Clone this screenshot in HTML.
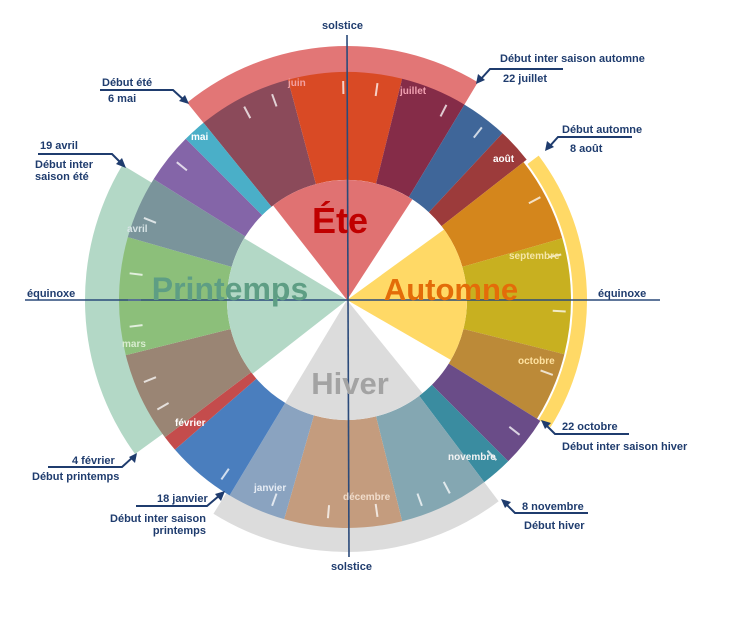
<!DOCTYPE html>
<html><head><meta charset="utf-8">
<style>
html,body{margin:0;padding:0;background:#fff;width:729px;height:634px;overflow:hidden}
svg{display:block}
text{font-family:"Liberation Sans",Arial,sans-serif;font-weight:bold}
.c{fill:#1F3C6E;font-size:11px}
.m{font-size:10px}
</style></head><body>
<svg id="s" width="729" height="634" viewBox="0 0 729 634" xmlns="http://www.w3.org/2000/svg">
<g id="shapes"></g>
<g id="ticks"></g>
<!-- axes -->
<line x1="347" y1="35" x2="349" y2="557" stroke="#2B4A7A" stroke-width="1.6"/>
<line x1="25" y1="300" x2="660" y2="300" stroke="#2B4A7A" stroke-width="1.6"/>
<!-- season labels -->
<text x="340" y="233" font-size="36" fill="#C00000" text-anchor="middle">Éte</text>
<text x="451" y="300" font-size="31" fill="#E36C09" text-anchor="middle">Automne</text>
<text x="230" y="300" font-size="32" fill="#5E9E84" text-anchor="middle">Printemps</text>
<text x="350" y="394" font-size="31" fill="#A3A3A3" text-anchor="middle">Hiver</text>
<!-- month labels -->
<text class="m" x="288" y="86" fill="#F2A0A0">juin</text>
<text class="m" x="400" y="94" fill="#F0A0B0">juillet</text>
<text class="m" x="493" y="162" fill="#fff">août</text>
<text class="m" x="509" y="259" fill="#F5E6A8">septembre</text>
<text class="m" x="518" y="364" fill="#FFE2A0">octobre</text>
<text class="m" x="448" y="460" fill="#F4F4F4">novembre</text>
<text class="m" x="343" y="500" fill="#F0DCCB">décembre</text>
<text class="m" x="254" y="491" fill="#E6ECF4">janvier</text>
<text class="m" x="175" y="426" fill="#fff">février</text>
<text class="m" x="122" y="347" fill="#D8ECD0">mars</text>
<text class="m" x="127" y="232" fill="#D8E4E6">avril</text>
<text class="m" x="191" y="140" fill="#fff">mai</text>
<!-- axis labels -->
<text class="c" x="322" y="29" font-size="12">solstice</text>
<text class="c" x="331" y="570" font-size="12">solstice</text>
<text class="c" x="27" y="297" font-size="12">équinoxe</text>
<text class="c" x="598" y="297" font-size="12">équinoxe</text>
<!-- callouts -->
<g fill="none" stroke="#1F3C6E" stroke-width="2">
<polyline points="100,90 173,90 185,101"/>
<polyline points="38,154 112,154 122,164"/>
<polyline points="563,69 490,69 480,80"/>
<polyline points="632,137 558,137 549,147"/>
<polyline points="629,434 555,434 545,424"/>
<polyline points="588,513 515,513 505,503"/>
<polyline points="48,467 122,467 133,457"/>
<polyline points="136,506 207,506 220,495"/>
</g>
<g fill="#1F3C6E">
<polygon points="189,104 179,101 185,95"/>
<polygon points="126,168 116,164 122,158"/>
<polygon points="476,84 478,74 485,80"/>
<polygon points="545,151 547,141 554,147"/>
<polygon points="541,420 551,423 545,429"/>
<polygon points="501,499 511,502 505,508"/>
<polygon points="137,453 135,463 129,457"/>
<polygon points="225,491 221,501 215,494"/>
</g>
<text class="c" x="102" y="86">Début été</text>
<text class="c" x="108" y="102">6 mai</text>
<text class="c" x="40" y="149">19 avril</text>
<text class="c" x="35" y="168">Début inter</text>
<text class="c" x="35" y="180">saison été</text>
<text class="c" x="500" y="62">Début inter saison automne</text>
<text class="c" x="503" y="82">22 juillet</text>
<text class="c" x="562" y="133">Début automne</text>
<text class="c" x="570" y="152">8 août</text>
<text class="c" x="562" y="430">22 octobre</text>
<text class="c" x="562" y="450">Début inter saison hiver</text>
<text class="c" x="522" y="510">8 novembre</text>
<text class="c" x="524" y="529">Début hiver</text>
<text class="c" x="72" y="464">4 février</text>
<text class="c" x="32" y="480">Début printemps</text>
<text class="c" x="157" y="502">18 janvier</text>
<text class="c" x="206" y="522" text-anchor="end">Début inter saison</text>
<text class="c" x="206" y="534" text-anchor="end">printemps</text>
</svg>
<script>
var cx=347,cy=300,NS="http://www.w3.org/2000/svg";
function P(a,r){a=a*Math.PI/180;return [cx+r*Math.sin(a),cy-r*Math.cos(a)];}
function ann(a1,a2,r1,r2,col){
 var p1=P(a1,r2),p2=P(a2,r2),p3=P(a2,r1),p4=P(a1,r1),lg=(a2-a1)>180?1:0,d;
 if(r1<=0){d="M"+cx+","+cy+"L"+p1+"A"+r2+","+r2+" 0 "+lg+" 1 "+p2+"Z";}
 else d="M"+p1+"A"+r2+","+r2+" 0 "+lg+" 1 "+p2+"L"+p3+"A"+r1+","+r1+" 0 "+lg+" 0 "+p4+"Z";
 var e=document.createElementNS(NS,"path");e.setAttribute("d",d);e.setAttribute("fill",col);
 document.getElementById("shapes").appendChild(e);}
// outer bands
ann(-39,31,226,254,"#E27676");
ann(53,122,226,240,"#FFD966");
ann(143,212,226,252,"#DCDCDC");
ann(234,301,226,262,"#B3D8C6");
// months
var M=[[321,345,"#8B4A5A"],[345,374,"#D94A25"],[374,391,"#852C48"],[391,403,"#3F6699"],[403,412,"#9C3B3B"],
[52,74,"#D4861C"],[74,104,"#C8B020"],[104,122,"#BC8A38"],[122,135,"#6A4C88"],[135,143,"#3A8CA0"],
[143,166,"#84A7B2"],[166,196,"#C49C7E"],[196,211,"#8AA3C0"],[211,229,"#4A7EBE"],[229,233,"#C44C4C"],
[233,256,"#9A8574"],[256,286,"#8CBF7A"],[286,302,"#7A949B"],[302,315,"#8465A8"],[315,321,"#4AAFC8"]];
M.forEach(function(m){ann(m[0],m[1],120,m[1]>52&&m[1]<=122?224:228,m[2]);});
// season wedges
ann(-38,33,0,120,"#E07272");
ann(54,120,0,120,"#FFD966");
ann(141,211,0,120,"#DCDCDC");
ann(232,301,0,120,"#B3D8C6");
// ticks
var T=[-28,-20,-1,8,27,38,62,78,93,110,128,137,152,160,172,185,200,215,240,248,263,270,277,292,309];
var g=document.getElementById("ticks");
T.forEach(function(a){var p=P(a,206),q=P(a,219);var l=document.createElementNS(NS,"line");
l.setAttribute("x1",p[0]);l.setAttribute("y1",p[1]);l.setAttribute("x2",q[0]);l.setAttribute("y2",q[1]);
l.setAttribute("stroke","rgba(255,255,255,0.75)");l.setAttribute("stroke-width","2");g.appendChild(l);});
</script>
</body></html>
